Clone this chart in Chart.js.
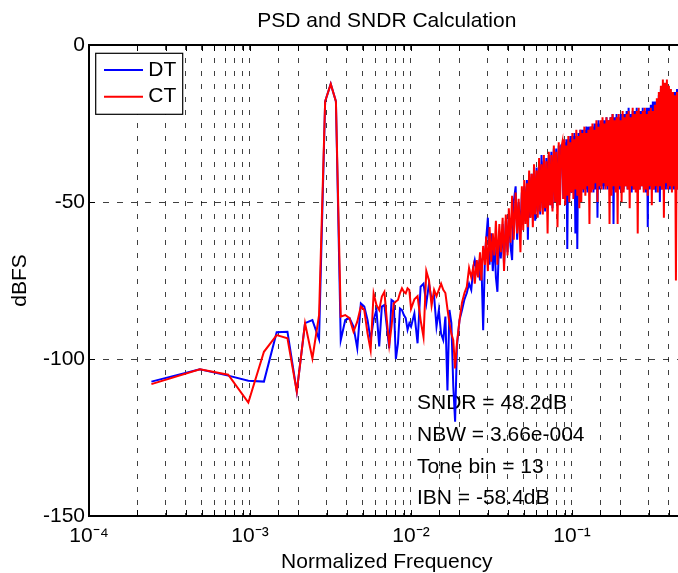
<!DOCTYPE html>
<html><head><meta charset="utf-8">
<script src="https://cdn.jsdelivr.net/npm/chart.js@4/dist/chart.umd.min.js"></script>
<style>
html,body{margin:0;padding:0;overflow:hidden;background:#fff;width:678px;height:573px}
#wrap{position:absolute;left:0;top:0;width:700px;height:573px}
</style>
</head><body><div id="wrap"><canvas id="c" width="700" height="573"></canvas></div>
<script>
// ---- data ----
const NFFT = 4096;
const titleText = 'PSD and SNDR Calculation';
const xTitle = 'Normalized Frequency';
const yTitle = 'dBFS';
const seriesNames = ['DT', 'CT'];
const xTickPowers = [-4, -3, -2, -1];
const yTickValues = [0, -50, -100, -150];
const annotations = ['SNDR = 48.2dB', 'NBW = 3.66e-004', 'Tone bin = 13', 'IBN = -58.4dB'];
const annotX = 0.0109;
const annotY = [-114, -124.2, -134.4, -144.3];

const bins = [
  1,2,3,4,5,6,7,8,9,10,11,12,13,14,15,16,17,18,19,20,
  21,22,23,24,25,26,27,28,29,30,31,32,33,34,35,36,37,38,39,40,
  41,43,45,47,49,51,53,55,57,59,61,63,65,67,69,71,73,75,77,79,82,85,88,91,94,97,
  100,102,105,107,110,112,115,118,120,123,126,129,132,135,138,141,145,148,152,155,159,163,166,170,174,178,183,187,191,196,
  200,204,207,211,215,218,222,226,230,234,238,242,247,251,256,260,265,270,274,279,284,289,294,300,305,310,316,322,327,333,339,345,351,
  357,362,367,372,378,383,389,394,400,406,
  412,418,424,430,436,442,449,455,462,468,
  475,482,489,496,503,511,518,526,533,541,
  549,557,565,573,581,590,598,607,616,625,
  634,643,652,662,671,681,691,701,711,721,
  732,742,753,764,775,787,798,810,821,833,
  845,858,870,883,895,908,921,935,948,962,
  976,990,1005,1019,1034,1049,1064,1080,1095,1111,
  1127,1144,1160,1177,1194,1211,1229,1247,1265,1283,
  1302,1321,1340,1359,1379,1399,1419,1440,1461,1482,
  1503,1525,1547,1569,1592,1615,1639,1662,1686,1711,
  1736,1761,1786,1812,1839,1865,1892,1920,1948,1976,
  2005,2034,2048
];

const dtDB = [
  -107.2,-103.3,-105.3,-106.9,-107.2,-91.5,-91.3,-110.4,-88.6,-87.6,-93.7,-18,-12.4,-18,-94,-87.6,-87,-89.7,-96.6,-82.3,
  -83.3,-87.6,-93.9,-87.6,-84.4,-96,-83.3,-82.8,-89.7,-96.6,-81.2,-81.7,-100,-95,-83.9,-84.4,-86,-87,-90.7,-88.6,
  -89.7,-85.5,-95,-77,-76,-82.3,-76,-81,-80,-89.7,-84.4,-92,-94,-86.5,-110,-84.4,-88.6,-108.7,-120,-96,-87.6,-84.4,-81,-79,-76,-78,
  -70.6,-68.5,-72,-70,-75,-68,-90.8,-67,-62,-55,-70,-60,-72,-62,-74,-78.6,-60,-68,-57,-70,-56,-66,-54,-64,-68.5,-50,-45,-62,-50,-60,
  -47,-57,-45,-56,-43,-62,-42,-55,-41,-54,-40,-56,-39,-53,-38,-54,-35,-52,-37,-53,-36,-52,-35,-51,-34,-52,-33,-50,-33,-51,-32,-49,-32,
  -32,-49,-31,-48,-30,-65,-30,-48,-29,-47,
  -29,-47,-28,-60,-29,-65,-28,-47,-27,-46,
  -27,-47,-27,-46,-26,-47,-26,-46,-26,-45,
  -26,-47,-25,-46,-25,-55,-24,-46,-25,-45,
  -24,-46,-24,-45,-23,-46,-24,-45,-23,-46,
  -22,-57,-23,-46,-22,-45,-23,-46,-22,-47,
  -22,-46,-22,-45,-21,-46,-20,-45,-22,-47,
  -21,-46,-21,-45,-20,-47,-21,-46,-21,-45,
  -20,-46,-21,-47,-20,-58,-20,-46,-19,-45,
  -18,-46,-18,-47,-18,-45,-16,-50,-14,-46,
  -13,-45,-13,-46,-13,-45,-14,-46,-15,-45,
  -15,-46,-15,-47,-14,-46,-15,-45,-16,-44,
  -16,-46,-35
];

const ctDB = [
  -108,-103.3,-105,-113.9,-97.7,-92.4,-93.4,-110.4,-88.6,-99.8,-86,-18,-12.4,-18,-86.5,-86,-87,-91.3,-88.1,-83.3,
  -84.4,-91.8,-97.2,-79.1,-82.8,-84.4,-80.1,-78.6,-87.6,-95.5,-89.7,-82.3,-81.7,-81.2,-79,-77.5,-78.6,-79.1,-77.5,-78,
  -84,-81,-80,-87.6,-93,-72,-75,-83,-78,-80,-78,-76,-78,-79,-84,-88.6,-92,-94,-103,-95,-87.6,-82,-79,-77,-71,-74,
  -70.6,-76,-68.5,-74,-66,-75,-64,-70,-61,-72,-58,-69,-60,-67,-56,-70,-57,-66,-55,-72,-54,-67,-52,-63,-48,-62,-47,-60,-49,-66,
  -45,-59,-43,-57,-44,-58,-40,-55,-41,-58,-38,-54,-40,-55,-36,-53,-38,-54,-35,-52,-37,-60,-34,-51,-35,-53,-32,-50,-34,-58,-31,-51,-33,
  -31,-49,-30,-51,-32,-48,-29,-50,-31,-47,
  -28,-49,-30,-46,-27,-48,-29,-52,-27,-50,
  -28,-46,-26,-48,-28,-45,-27,-57,-26,-47,
  -25,-46,-27,-44,-24,-50,-26,-45,-24,-46,
  -23,-44,-25,-46,-23,-45,-24,-57,-23,-48,
  -22,-45,-24,-47,-23,-57,-22,-45,-24,-50,
  -21,-47,-23,-45,-22,-46,-21,-52,-23,-45,
  -20,-46,-22,-47,-21,-60,-20,-46,-22,-45,
  -21,-47,-20,-46,-22,-48,-21,-45,-20,-51,
  -21,-46,-19,-45,-17,-47,-15,-45,-13,-46,
  -11,-55,-12,-44,-11,-46,-13,-45,-14,-47,
  -15,-45,-16,-75,-15,-46,-16,-44,-15,-50,
  -17,-45,-30
];

if (bins.length !== dtDB.length || bins.length !== ctDB.length) {
  throw new Error('length mismatch ' + bins.length + ' ' + dtDB.length + ' ' + ctDB.length);
}

// ---- chart ----
const FONT = '"Liberation Sans", Arial, Helvetica, sans-serif';
const supMap = {'-':'\u207B','0':'\u2070','1':'\u00B9','2':'\u00B2','3':'\u00B3','4':'\u2074','5':'\u2075','6':'\u2076','7':'\u2077','8':'\u2078','9':'\u2079'};
const sup = s => String(s).split('').map(c => supMap[c] || c).join('');

const toPoints = vals => bins.map((k, i) => ({x: k / NFFT, y: vals[i]}));

const decor = {
  id: 'decor',
  beforeDatasetsDraw(chart) {
    const {ctx} = chart;
    const xs = chart.scales.x, ys = chart.scales.y;
    ctx.save();
    ctx.font = '21px ' + FONT;
    ctx.fillStyle = '#000';
    ctx.textAlign = 'left';
    ctx.textBaseline = 'middle';
    annotations.forEach((t, i) => ctx.fillText(t, xs.getPixelForValue(annotX), ys.getPixelForValue(annotY[i])));
    ctx.restore();
  },
  afterDatasetsDraw(chart) {
    const {ctx, chartArea: a} = chart;
    const xs = chart.scales.x, ys = chart.scales.y;
    ctx.save();
    // inside tick marks
    ctx.strokeStyle = '#000';
    ctx.lineWidth = 1;
    ctx.beginPath();
    xs.ticks.forEach(t => {
      const px = Math.round(xs.getPixelForValue(t.value)) + 0.5;
      ctx.moveTo(px, a.bottom); ctx.lineTo(px, a.bottom - 6);
      ctx.moveTo(px, a.top); ctx.lineTo(px, a.top + 6);
    });
    ys.ticks.forEach(t => {
      const py = Math.round(ys.getPixelForValue(t.value)) + 0.5;
      ctx.moveTo(a.left, py); ctx.lineTo(a.left + 6, py);
    });
    ctx.stroke();
    // axes box
    ctx.lineWidth = 2;
    ctx.strokeRect(a.left, a.top, a.right - a.left, a.bottom - a.top);
    // title
    ctx.font = '21px ' + FONT;
    ctx.fillStyle = '#000';
    ctx.textAlign = 'center';
    ctx.textBaseline = 'middle';
    ctx.fillText(titleText, (a.left + a.right) / 2, 21);
    // legend
    const lx = a.left + 6.7, ly = a.top + 8.3, lw = 87, lh = 61;
    ctx.fillStyle = '#fff';
    ctx.fillRect(lx, ly, lw, lh);
    ctx.lineWidth = 1.2;
    ctx.strokeStyle = '#000';
    ctx.strokeRect(lx, ly, lw, lh);
    chart.data.datasets.forEach((ds, i) => {
      const yy = ly + 16.7 + i * 26.7;
      ctx.strokeStyle = ds.borderColor;
      ctx.lineWidth = 2;
      ctx.beginPath(); ctx.moveTo(lx + 8.3, yy); ctx.lineTo(lx + 47.3, yy); ctx.stroke();
      ctx.fillStyle = '#000';
      ctx.textAlign = 'left';
      ctx.fillText(ds.label, lx + 52.6, yy);
    });
    ctx.restore();
  }
};

new Chart(document.getElementById('c'), {
  type: 'line',
  data: {
    datasets: [
      {label: seriesNames[0], data: toPoints(dtDB), borderColor: '#0000ff', borderWidth: 2, pointRadius: 0, tension: 0, order: 2},
      {label: seriesNames[1], data: toPoints(ctDB), borderColor: '#ff0000', borderWidth: 2, pointRadius: 0, tension: 0, order: 1}
    ]
  },
  options: {
    responsive: false,
    animation: false,
    devicePixelRatio: 1,
    layout: {padding: {top: 45, right: 15.5, bottom: 0, left: 0}},
    plugins: {legend: {display: false}, title: {display: false}, tooltip: {enabled: false}},
    scales: {
      x: {
        type: 'logarithmic',
        min: 1e-4,
        max: 0.5,
        afterFit(s) { s.height = 57; },
        border: {display: false, dash: [5, 8]},
        grid: {color: 'rgba(0,0,0,0.75)', lineWidth: 1, drawTicks: false},
        ticks: {
          autoSkip: false, maxRotation: 0, minRotation: 0, padding: 8,
          color: '#000', font: {family: FONT, size: 21},
          callback(v) {
            const p = Math.log10(v), r = Math.round(p);
            if (Math.abs(p - r) < 1e-6 && xTickPowers.includes(r)) return '10' + sup(r);
            return '';
          }
        },
        title: {display: true, text: xTitle, color: '#000', font: {family: FONT, size: 21, lineHeight: 1}, padding: {top: 0, bottom: 0.5}}
      },
      y: {
        type: 'linear',
        min: -150,
        max: 0,
        afterFit(s) { s.width = 89; },
        afterBuildTicks(s) { s.ticks = yTickValues.map(v => ({value: v})); },
        border: {display: false, dash: [6, 8]},
        grid: {color: 'rgba(0,0,0,0.75)', lineWidth: 1, drawTicks: false},
        ticks: {padding: 4, color: '#000', font: {family: FONT, size: 21}, callback: v => String(v)},
        title: {display: true, text: yTitle, color: '#000', font: {family: FONT, size: 21, lineHeight: 1.2}, padding: {top: 7.4, bottom: 0}}
      }
    }
  },
  plugins: [decor]
});
</script>
</body></html>
